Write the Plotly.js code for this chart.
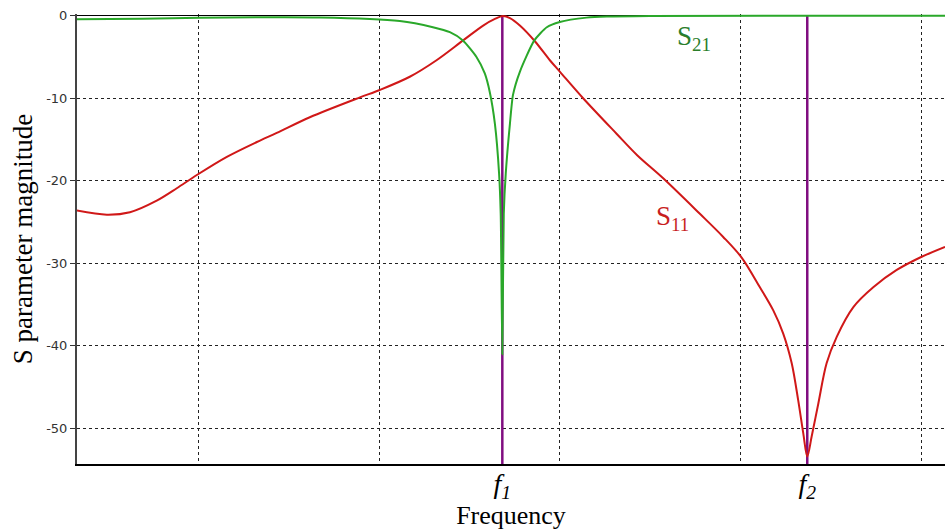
<!DOCTYPE html>
<html><head><meta charset="utf-8">
<script src="https://cdn.plot.ly/plotly-3.0.1.min.js"></script>
<style>html,body{margin:0;padding:0;background:#fff}</style>
</head><body><div id="chart" style="width:945px;height:530px"></div>
<script>
// S11 (reflection) – frequency in grid units, magnitude in dB
const s11Freq = [0.327,0.493,0.621,0.769,0.880,0.991,1.157,1.323,1.433,1.616,1.893,2.003,2.169,2.317,2.464,2.575,2.640,2.684,2.723,2.778,2.861,2.944,3.000,3.128,3.313,3.427,3.571,3.774,3.903,4.005,4.106,4.180,4.235,4.282,4.318,4.346,4.368,4.392,4.429,4.475,4.531,4.623,4.733,4.863,5.001,5.130];
const s11Mag  = [-23.6,-24.1,-23.8,-22.4,-20.9,-19.3,-17.1,-15.3,-14.2,-12.3,-9.9,-9.0,-7.4,-5.4,-3.0,-1.2,-0.4,-0.05,-0.3,-1.2,-3.1,-5.4,-6.8,-10.0,-14.3,-16.9,-19.7,-24.0,-26.8,-29.3,-32.9,-35.7,-38.5,-42.1,-46.6,-50.6,-53.4,-51.0,-47.0,-42.1,-38.9,-35.3,-32.9,-30.8,-29.2,-28.0];
// S21 (transmission)
const s21Freq = [0.327,0.692,1.007,1.671,2.114,2.297,2.391,2.463,2.538,2.584,2.612,2.640,2.663,2.672,2.681,2.689,2.700,2.723,2.740,2.778,2.858,2.927,2.999,3.147,3.259,3.497,5.130];
const s21Mag  = [-0.45,-0.37,-0.25,-0.22,-0.65,-1.4,-2.0,-3.0,-5.0,-7.0,-9.3,-13.1,-19.1,-24.0,-41.0,-24.0,-19.1,-13.1,-9.6,-6.8,-3.0,-1.4,-0.77,-0.24,-0.1,-0.03,0];
// marker frequencies
const markerFreqs  = [2.681, 4.368];
const markerLabels = ['<i>f<sub>1</sub></i>', '<i>f<sub>2</sub></i>'];
const gridFreqs = [1,2,3,4,5];
const yTickVals = [0,-10,-20,-30,-40,-50];
const yTickText = ['0','-10','-20','-30','-40','-50'];
const xRange = [0.328, 5.130];
const yRange = [-54.3, 0.2];

const serif = '"Liberation Serif", "Times New Roman", serif';

const traces = [];
// marker lines at f1 and f2 on the overlaid frequency axis
markerFreqs.forEach((f, i) => {
  traces.push({x:[f, f], y:[yRange[0], 0], type:'scatter', mode:'lines', xaxis:'x2', yaxis:'y',
               name:'marker' + (i + 1), line:{color:'#800d80', width:2.5}, hoverinfo:'skip'});
});
traces.push(
  {x:s11Freq, y:s11Mag, type:'scatter', mode:'lines', name:'S11', xaxis:'x2', yaxis:'y',
   line:{color:'#d01818', width:2, shape:'spline', smoothing:0.9}, hoverinfo:'skip'},
  {x:s21Freq, y:s21Mag, type:'scatter', mode:'lines', name:'S21', xaxis:'x2', yaxis:'y',
   line:{color:'#2aa82a', width:2, shape:'spline', smoothing:0.6}, hoverinfo:'skip'}
);

const layout = {
  width:945, height:530,
  margin:{l:77, r:0, t:14, b:66},
  paper_bgcolor:'#fff', plot_bgcolor:'#fff',
  showlegend:false,
  font:{family:serif, color:'#000'},
  xaxis:{range:xRange, tickvals:gridFreqs, showticklabels:false, ticks:'',
         showgrid:true, gridcolor:'#222', gridwidth:1, griddash:'3px,3px',
         showline:true, linecolor:'#000', linewidth:2, zeroline:false, fixedrange:true},
  xaxis2:{overlaying:'x', side:'bottom', anchor:'y', range:xRange,
          tickvals:markerFreqs, ticktext:markerLabels, showgrid:false, ticks:'',
          showline:false, zeroline:false,
          tickfont:{family:serif, size:28, color:'#000'},
          title:{text:'Frequency', font:{family:serif, size:26, color:'#000'}, standoff:0}},
  yaxis:{range:yRange, tickvals:yTickVals, ticktext:yTickText,
         ticks:'outside', ticklen:5, tickcolor:'#333', tickwidth:1,
         tickfont:{family:'"DejaVu Sans", Verdana, sans-serif', size:13, color:'#333'},
         showgrid:true, gridcolor:'#222', gridwidth:1, griddash:'3px,3px',
         showline:true, linecolor:'#444', linewidth:2,
         zeroline:true, zerolinecolor:'#000', zerolinewidth:1,
         title:{text:'S parameter magnitude', font:{family:serif, size:27, color:'#000'}, standoff:6}},
  annotations:[
    {xref:'x', yref:'y', x:3.740, y:-2.7, text:'S<sub>21</sub>', showarrow:false,
     font:{family:serif, size:27, color:'#2a7d2a'}},
    {xref:'x', yref:'y', x:3.624, y:-24.5, text:'S<sub>11</sub>', showarrow:false,
     font:{family:serif, size:27, color:'#c81e1e'}}
  ]
};

Plotly.newPlot('chart', traces, layout, {staticPlot:true, displayModeBar:false});
</script>
</body></html>
